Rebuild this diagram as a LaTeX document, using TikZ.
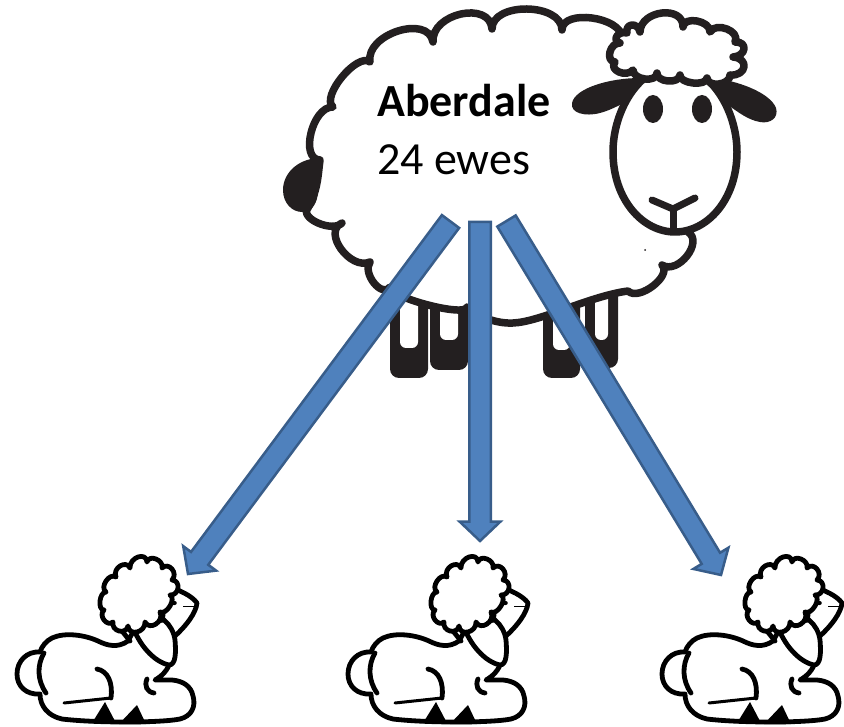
\documentclass[tikz,border=0pt]{standalone}
\usepackage{fontspec}
\setmainfont{Carlito}
\usetikzlibrary{calc}

\definecolor{arrowfill}{HTML}{4F81BD}
\definecolor{arrowedge}{HTML}{385D8A}
\definecolor{ink}{HTML}{231F20}

% one rounded scallop of a cloud outline: from #1 to #2, bulging through #3
\newcommand{\cloudbump}[3]{.. controls ($0.3333*(#1)+1.3333*(#3)-0.6667*(#2)$) and ($0.3333*(#2)+1.3333*(#3)-0.6667*(#1)$) .. (#2)}

% block arrow with a flat tail at #1 and its point at #2
\newcommand{\blockarrow}[2]{%
  \coordinate (#2-base) at ($(#2)!19.5pt!(#1)$);
  \draw[bluearrow] ($(#1)!10.75pt!-90:(#2)$) -- ($(#2-base)!10.75pt!90:(#1)$)
    -- ($(#2-base)!20.5pt!90:(#1)$) -- (#2) -- ($(#2-base)!20.5pt!-90:(#1)$)
    -- ($(#2-base)!10.75pt!-90:(#1)$) -- ($(#1)!10.75pt!90:(#2)$) -- cycle;}

\tikzset{
  sheepline/.style={draw=ink, line width=7.5pt, line join=round, fill=white},
  inkfill/.style={fill=ink, draw=none},
  lambline/.style={draw=black, line width=4.8pt, line join=round, line cap=round, fill=white},
  lambstroke/.style={draw=black, line width=4.8pt, line cap=round},
  bluearrow/.style={fill=arrowfill, draw=arrowedge, line width=2.5pt, line join=miter},
  countlabel/.style={inner sep=0pt, anchor=base west, font=\fontsize{46}{55}\selectfont},
  lamb/.pic={
    % body, tail and folded legs
    \path[lambline] (133,92) -- (128,101)
      .. controls (118,108) and (108,106) .. (98,101)
      .. controls (85,95) and (65,92) .. (52,98)
      .. controls (46,101) and (42,106) .. (40,112)
      .. controls (27,111) and (17,121) .. (17,134)
      .. controls (17,146) and (26,155) .. (40,154)
      .. controls (40,166) and (48,176) .. (62,179)
      .. controls (95,183) and (160,183) .. (180,179)
      .. controls (192,176) and (196,166) .. (193,156)
      .. controls (191,146) and (183,141) .. (172,140)
      -- (155,140)
      .. controls (162,136) and (168,130) .. (170,122)
      -- (165,92) -- cycle;
    \draw[lambstroke] (44,113) .. controls (37,125) and (37,140) .. (46,153);
    \draw[lambstroke] (97,129) .. controls (108,131) and (113,143) .. (111,158);
    \draw[lambstroke, line width=3pt] (64,163) -- (111,158);
    \fill (92,183) -- (105,162) -- (116,183) -- cycle;
    \fill (119,184) -- (137,165) -- (146,184) -- cycle;
    \draw[lambstroke] (147,139) .. controls (144,146) and (147,152) .. (154,153);
    % face
    \path[lambline] (166,46) .. controls (180,50) and (192,56) .. (197,63)
      .. controls (196,73) and (186,86) .. (175,96) -- (162,84) -- cycle;
    % hanging ear
    \path[lambline] (132,84) .. controls (138,104) and (154,122) .. (169,125)
      .. controls (176,125) and (176,112) .. (175,100)
      .. controls (174,92) and (170,85) .. (164,80) -- cycle;
    \draw[lambstroke] (118,86) -- (130,101);
    % curly top
    \path[lambline] (104,70)
      \cloudbump{104,70}{106,52}{100,61}
      \cloudbump{106,52}{116,37}{106,41}
      \cloudbump{116,37}{130,28}{120,26}
      \cloudbump{130,28}{147,22}{138,17}
      \cloudbump{147,22}{162,28}{156,19}
      \cloudbump{162,28}{172,40}{172,29}
      \cloudbump{172,40}{170,55}{178,48}
      \cloudbump{170,55}{160,72}{170,66}
      \cloudbump{160,72}{145,82}{156,84}
      \cloudbump{145,82}{128,86}{137,92}
      \cloudbump{128,86}{113,82}{119,91}
      \cloudbump{113,82}{104,70}{104,80}
      -- cycle;
    \fill (174,63) ellipse [x radius=2.8pt, y radius=2.2pt];
    \draw[line width=1pt] (183,66) -- (196,66);
  }
}

\begin{document}
\begin{tikzpicture}[x=1pt,y=-1pt]
\useasboundingbox (0,0) rectangle (844,727);

% legs of the ewe
\foreach \xl/\xr/\yt/\yb/\yi in {390/428/280/378/348, 430/468/285/370/340, 543/580/295/378/350, 585/618/285/368/340}{
  \fill[ink, rounded corners=9pt] (\xl,\yt) -- (\xl,\yb) -- (\xr,\yb) -- (\xr,\yt) -- cycle;
  \fill[white, rounded corners=6pt] (\xl+10,\yt-10) -- (\xl+10,\yi) -- (\xr-10,\yi) -- (\xr-10,\yt-10) -- cycle;
}

% fleece of the ewe
\path[sheepline] (320,160)
  \cloudbump{320,160}{333,107}{311,133}
  \cloudbump{333,107}{370,62}{342,77}
  \cloudbump{370,62}{433,42}{398,31}
  \cloudbump{433,42}{492,29}{461,14}
  \cloudbump{492,29}{562,30}{527,9}
  \cloudbump{562,30}{622,38}{592,18}
  -- (665,60) -- (690,150) -- (688,232)
  \cloudbump{688,232}{662,265}{687,256}
  \cloudbump{662,265}{628,291}{653,286}
  .. controls (590,296) and (540,322) .. (513,323)
  .. controls (495,324) and (475,315) .. (467,307)
  \cloudbump{467,307}{390,287}{428,305}
  \cloudbump{390,287}{370,262}{374,283}
  \cloudbump{370,262}{342,223}{341,249}
  \cloudbump{342,223}{308,208}{318,223}
  .. controls (318,190) and (318,175) .. (320,160) -- cycle;

% tail
\path[inkfill] (323,158) .. controls (300,157) and (283,172) .. (283,190)
  .. controls (283,203) and (292,212) .. (302,212)
  .. controls (312,212) and (318,203) .. (318,190)
  .. controls (318,178) and (320,168) .. (323,158) -- cycle;

% ears
\path[inkfill] (640,78) .. controls (610,78) and (575,88) .. (572,103)
  .. controls (570,113) and (585,117) .. (600,113)
  .. controls (612,110) and (625,102) .. (640,95) -- cycle;
\path[inkfill] (712,78) .. controls (735,80) and (770,92) .. (776,108)
  .. controls (779,118) and (770,124) .. (760,122)
  .. controls (748,120) and (738,112) .. (728,105) -- cycle;

% face
\path[sheepline] (675,66) .. controls (640,66) and (613,110) .. (613,152)
  .. controls (613,200) and (643,232) .. (675,232)
  .. controls (707,232) and (737,200) .. (737,152)
  .. controls (737,110) and (710,66) .. (675,66) -- cycle;

% curly top of the head
\path[sheepline] (627,33)
  \cloudbump{627,33}{640,32}{632,25}
  \cloudbump{640,32}{683,27}{662,13}
  \cloudbump{683,27}{710,32}{697,21}
  \cloudbump{710,32}{735,42}{727,29}
  \cloudbump{735,42}{733,57}{744,49}
  \cloudbump{733,57}{730,75}{744,67}
  \cloudbump{730,75}{707,78}{719,84}
  \cloudbump{707,78}{680,75}{693,83}
  \cloudbump{680,75}{657,73}{668,81}
  \cloudbump{657,73}{633,70}{645,79}
  \cloudbump{633,70}{615,62}{619,72}
  \cloudbump{615,62}{620,43}{610,52}
  \cloudbump{620,43}{627,33}{617,36}
  -- cycle;

% eyes and mouth
\fill[ink] (653,109) ellipse [x radius=10pt, y radius=14pt];
\fill[ink] (702,109) ellipse [x radius=10pt, y radius=14pt];
\draw[ink, line width=7pt, line cap=round, line join=round] (652,200) -- (673,209) -- (695,198);
\draw[ink, line width=7pt, line cap=round] (673,209) -- (673,230);
\fill[ink] (645,250) circle (1pt);

% flock label
\node[countlabel, font=\fontsize{46}{55}\selectfont\bfseries] (flockname) at (377,117) {Aberdale};
\node[countlabel] (flocksize) at (377,175) {24 ewes};

% lambs
\pic (lambA) at (0,540) {lamb};
\pic (lambB) at (331,540) {lamb};
\pic (lambC) at (645,540) {lamb};

% arrows from the ewe down to the lambs
\coordinate (tailA) at (450.5,221.5);
\coordinate (tailB) at (480,222);
\coordinate (tailC) at (506.5,221);
\coordinate (tipA) at (188,574);
\coordinate (tipB) at (480,541);
\coordinate (tipC) at (721,575);
\blockarrow{tailA}{tipA}
\blockarrow{tailB}{tipB}
\blockarrow{tailC}{tipC}
\end{tikzpicture}
\end{document}
